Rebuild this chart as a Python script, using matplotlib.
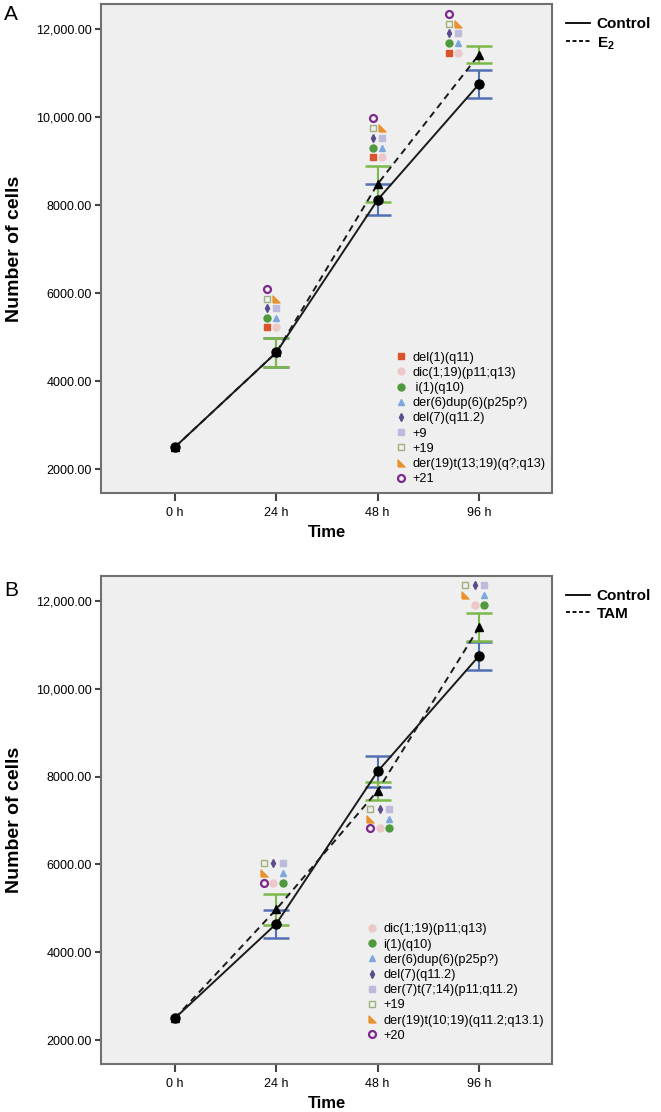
import matplotlib

matplotlib.use("Agg")
import matplotlib.pyplot as plt
from matplotlib.lines import Line2D

plt.rcParams["font.family"] = ["Liberation Sans", "DejaVu Sans"]
plt.rcParams["mathtext.fontset"] = "custom"
plt.rcParams["mathtext.rm"] = "Liberation Sans"
plt.rcParams["mathtext.bf"] = "Liberation Sans:bold"

# ---- data ----
times = ["0 h", "24 h", "48 h", "96 h"]
y_ticks = [2000, 4000, 6000, 8000, 10000, 12000]
y_tick_labels = ["2000.00", "4000.00", "6000.00", "8000.00", "10,000.00", "12,000.00"]

control_mean = [2500, 4650, 8120, 10750]
control_err = [0, 320, 350, 320]

e2_mean = [2500, 4650, 8480, 11420]
e2_err = [0, 330, 410, 185]

tam_mean = [2500, 4980, 7680, 11400]
tam_err = [0, 350, 205, 320]

# abnormality markers: label -> (marker, face colour, edge colour)
RTRI = [(-1, -1), (1, -1), (-1, 1), (-1, -1)]
styles = {
    "del(1)(q11)": ("s", "#d9542b", "#d9542b"),
    "dic(1;19)(p11;q13)": ("o", "#ecc8c8", "#ecc8c8"),
    "i(1)(q10)": ("o", "#4f9a3c", "#4f9a3c"),
    "der(6)dup(6)(p25p?)": ("^", "#7ea8dc", "#7ea8dc"),
    "del(7)(q11.2)": ("d", "#5b4a8c", "#5b4a8c"),
    "+9": ("s", "#bcbbdc", "#bcbbdc"),
    "der(7)t(7;14)(p11;q11.2)": ("s", "#bcbbdc", "#bcbbdc"),
    "+19": ("s", "none", "#9fb07a"),
    "der(19)t(13;19)(q?;q13)": (RTRI, "#e8922e", "#e8922e"),
    "der(19)t(10;19)(q11.2;q13.1)": (RTRI, "#e8922e", "#e8922e"),
    "+21": ("o", "none", "#7b2a8c"),
    "+20": ("o", "none", "#7b2a8c"),
}

# panel A clusters (x in category units, y in cells)
a_labels = ["del(1)(q11)", "dic(1;19)(p11;q13)", " i(1)(q10)", "der(6)dup(6)(p25p?)",
            "del(7)(q11.2)", "+9", "+19", "der(19)t(13;19)(q?;q13)", "+21"]
a_x = [
    [0.91, 1.95, 2.70],
    [1.00, 2.04, 2.79],
    [0.91, 1.95, 2.70],
    [1.00, 2.04, 2.79],
    [0.91, 1.95, 2.70],
    [1.00, 2.04, 2.79],
    [0.91, 1.95, 2.70],
    [1.00, 2.04, 2.79],
    [0.91, 1.95, 2.70],
]
a_y = [
    [5227, 9090, 11455],
    [5227, 9090, 11455],
    [5432, 9295, 11682],
    [5432, 9295, 11682],
    [5660, 9523, 11909],
    [5660, 9523, 11909],
    [5864, 9750, 12114],
    [5864, 9750, 12114],
    [6090, 9977, 12340],
]

# panel B clusters
b_labels = ["dic(1;19)(p11;q13)", "i(1)(q10)", "der(6)dup(6)(p25p?)", "del(7)(q11.2)",
            "der(7)t(7;14)(p11;q11.2)", "+19", "der(19)t(10;19)(q11.2;q13.1)", "+20"]
b_x = [
    [0.97, 2.024, 2.962],
    [1.07, 2.113, 3.05],
    [1.07, 2.113, 3.05],
    [0.97, 2.024, 2.962],
    [1.07, 2.113, 3.05],
    [0.88, 1.925, 2.863],
    [0.88, 1.925, 2.863],
    [0.88, 1.925],
]
b_y = [
    [5568, 6841, 11909],
    [5568, 6841, 11909],
    [5795, 7045, 12136],
    [6023, 7273, 12364],
    [6023, 7273, 12364],
    [6023, 7273, 12364],
    [5795, 7045, 12136],
    [5568, 6841],
]

BLUE = "#5470b4"
GREEN = "#7cb84a"
W, H = 661, 1112


def style_for(label):
    return styles[label.strip()]


def draw_panel(fig, ax, treat_mean, treat_err, treat_name, labels, xs, ys, leg_anchor, out_leg_y):
    ax.set_facecolor("#efefef")
    x = list(range(len(times)))

    ax.errorbar(x[1:], control_mean[1:], yerr=control_err[1:], fmt="none",
                ecolor=BLUE, elinewidth=1.5, capsize=9.5, capthick=1.8, zorder=2)
    ax.errorbar(x[1:], treat_mean[1:], yerr=treat_err[1:], fmt="none",
                ecolor=GREEN, elinewidth=1.5, capsize=9.5, capthick=1.8, zorder=2)
    ax.plot(x, control_mean, color="#1a1a1a", lw=1.4, zorder=3)
    ax.plot(x, treat_mean, color="#1a1a1a", lw=1.4, linestyle=(0, (3.5, 2.5)), zorder=3)
    ax.plot(x, control_mean, "o", color="black", ms=6.5, zorder=4, linestyle="none")
    ax.plot(x, treat_mean, "^", color="black", ms=6, zorder=4, linestyle="none")

    handles = []
    for lab, px, py in zip(labels, xs, ys):
        mk, fc, ec = style_for(lab)
        ms = 4.2 if mk == "d" else 5
        mew = 1.6 if fc == "none" and mk == "o" else 1.0
        ax.plot(px, py, linestyle="none", marker=mk, ms=ms, mfc=fc, mec=ec, mew=mew, zorder=5)
        handles.append(Line2D([], [], linestyle="none", marker=mk, ms=ms, mfc=fc, mec=ec, mew=mew))

    ax.legend(handles, labels, loc="upper left", bbox_to_anchor=leg_anchor, frameon=False,
              fontsize=9.2, handlelength=0.75, handletextpad=0.5, labelspacing=0.25,
              borderpad=0, borderaxespad=0)

    ax.set_xlim(-0.73, 3.72)
    ax.set_ylim(1455, 12570)
    ax.set_xticks(x)
    ax.set_xticklabels(times, fontsize=9)
    ax.set_yticks(y_ticks)
    ax.set_yticklabels(y_tick_labels, fontsize=9)
    ax.tick_params(axis="x", length=6, width=1.5, color="#444444", pad=4)
    ax.tick_params(axis="y", length=4.5, width=1.5, color="#444444", pad=2)
    for s in ax.spines.values():
        s.set_color("#707070")
        s.set_linewidth(1.5)

    ax.set_xlabel("Time", fontsize=12, fontweight="bold")
    ax.xaxis.set_label_coords(0.5, -0.066)
    ax.set_ylabel("Number of cells", fontsize=14, fontweight="bold")
    ax.yaxis.set_label_coords(-0.172, 0.5)

    # outside legend for the lines
    out = [Line2D([], [], color="black", lw=1.3),
           Line2D([], [], color="black", lw=1.3, linestyle=(0, (2.2, 1.4)))]
    fig.legend(out, ["Control", treat_name], loc="upper left",
               bbox_to_anchor=(566 / W, out_leg_y), frameon=False,
               prop={"weight": "bold", "size": 11},
               handlelength=1.6, handletextpad=0.4, labelspacing=0.25,
               borderpad=0, borderaxespad=0)


fig = plt.figure(figsize=(W / 100, H / 100), dpi=100)
ax_a = fig.add_axes([101 / W, 1 - 493 / H, 451 / W, 489 / H])
ax_b = fig.add_axes([101 / W, 1 - 1064 / H, 451 / W, 488 / H])

draw_panel(fig, ax_a, e2_mean, e2_err, r"E$_\mathbf{2}$", a_labels, a_x, a_y,
           (0.655, 0.289), 1 - 17 / H)
draw_panel(fig, ax_b, tam_mean, tam_err, "TAM", b_labels, b_x, b_y,
           (0.591, 0.288), 1 - 589 / H)

fig.text(4 / W, 1 - 15 / H, "A", fontsize=15, va="center", ha="left")
fig.text(4 / W, 1 - 590 / H, "B", fontsize=15, va="center", ha="left")

fig.savefig("out.png", dpi=100)
